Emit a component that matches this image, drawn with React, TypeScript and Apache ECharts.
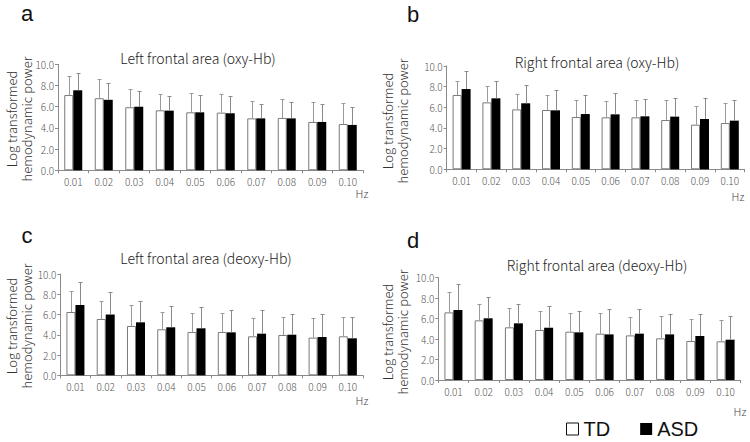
import React, { useEffect, useRef } from 'react';
import * as echarts from 'echarts';

const categories = ['0.01', '0.02', '0.03', '0.04', '0.05', '0.06', '0.07', '0.08', '0.09', '0.10'];
const yMin = 0;
const yMax = 10;
const yInterval = 2;

// a: Left frontal area (oxy-Hb)
const aTD = [7.1, 6.8, 5.95, 5.66, 5.47, 5.44, 4.9, 4.94, 4.56, 4.37];
const aTDsd = [1.8, 1.8, 1.7, 1.54, 1.79, 1.76, 1.64, 1.76, 1.89, 2.01];
const aASD = [7.55, 6.65, 6.0, 5.63, 5.47, 5.38, 4.9, 4.9, 4.56, 4.28];
const aASDsd = [1.65, 1.55, 1.45, 1.37, 1.63, 1.62, 1.36, 1.55, 1.73, 1.69];

// b: Right frontal area (oxy-Hb)
const bTD = [7.19, 6.48, 5.8, 5.74, 5.06, 5.03, 5.03, 4.77, 4.32, 4.48];
const bTDsd = [1.31, 1.55, 1.49, 1.45, 1.68, 1.55, 1.68, 1.91, 1.81, 1.94];
const bASD = [7.77, 6.87, 6.39, 5.71, 5.35, 5.32, 5.13, 5.1, 4.87, 4.71];
const bASDsd = [1.71, 1.63, 1.77, 1.94, 1.84, 2.03, 1.64, 1.77, 2.0, 1.97];

// c: Left frontal area (deoxy-Hb)
const cTD = [6.25, 5.56, 4.87, 4.54, 4.28, 4.28, 3.85, 3.98, 3.72, 3.85];
const cTDsd = [2.07, 1.78, 2.07, 1.68, 1.87, 1.87, 1.81, 1.74, 1.91, 1.91];
const cASD = [6.94, 6.0, 5.23, 4.74, 4.64, 4.24, 4.11, 4.01, 3.78, 3.65];
const cASDsd = [2.24, 2.26, 2.07, 2.07, 2.1, 2.17, 2.3, 2.04, 2.31, 2.07];

// d: Right frontal area (deoxy-Hb)
const dTD = [6.61, 5.83, 5.15, 4.89, 4.72, 4.53, 4.36, 4.07, 3.81, 3.78];
const dTDsd = [1.99, 1.56, 1.85, 1.85, 1.83, 1.98, 1.76, 2.15, 2.15, 2.05];
const dASD = [6.84, 6.03, 5.54, 5.11, 4.66, 4.46, 4.53, 4.46, 4.3, 3.94];
const dASDsd = [2.51, 2.05, 1.85, 2.09, 2.08, 2.44, 2.37, 1.96, 2.12, 2.28];

const panelLetters = ['a', 'b', 'c', 'd'];
const panelTitles = [
  'Left frontal area (oxy-Hb)',
  'Right frontal area (oxy-Hb)',
  'Left frontal area (deoxy-Hb)',
  'Right frontal area (deoxy-Hb)',
];
const yAxisName = 'Log transformed\nhemodynamic power';
const xUnit = 'Hz';
const seriesNames = ['TD', 'ASD'];

const FONT = '"Noto Sans CJK JP", "Noto Sans", sans-serif';
const FONT2 = '"Liberation Sans", Arial, sans-serif';

// layout (pixels)
const layouts = [
  { left: 58, top: 64.3, width: 305, height: 106, letter: [27, 13], title: [198, 58], yname: [19, 119], hz: [362, 193] },
  { left: 446.7, top: 66, width: 298, height: 103.3, letter: [413, 14], title: [597, 62], yname: [395, 121], hz: [738, 196] },
  { left: 60.3, top: 274, width: 302.7, height: 101.3, letter: [27, 235], title: [206, 258], yname: [19, 326], hz: [362, 400] },
  { left: 438.3, top: 277.7, width: 302.4, height: 102.3, letter: [413, 240], title: [597, 265], yname: [395, 332], hz: [740, 411] },
];

const panelData = [
  { td: aTD, tdSd: aTDsd, asd: aASD, asdSd: aASDsd },
  { td: bTD, tdSd: bTDsd, asd: bASD, asdSd: bASDsd },
  { td: cTD, tdSd: cTDsd, asd: cASD, asdSd: cASDsd },
  { td: dTD, tdSd: dTDsd, asd: dASD, asdSd: dASDsd },
];

const BAR_W = 9;

function errSeries(means: number[], sds: number[], idx: number, offset: number, color: string) {
  return {
    type: 'custom',
    xAxisIndex: idx,
    yAxisIndex: idx,
    silent: true,
    z: 5,
    data: means.map((m, i) => [i, m, m + sds[i]]),
    encode: { x: 0, y: [1, 2] },
    renderItem: (params: any, api: any) => {
      const i = api.value(0);
      const p0 = api.coord([i, api.value(1)]);
      const p1 = api.coord([i, api.value(2)]);
      const x = Math.round(p0[0] + offset) + 0.5;
      const yt = Math.round(p1[1]) + 0.5;
      return {
        type: 'group',
        children: [
          { type: 'line', shape: { x1: x, y1: p0[1], x2: x, y2: yt }, style: { stroke: color, lineWidth: 1 } },
          { type: 'line', shape: { x1: x - 2, y1: yt, x2: x + 2, y2: yt }, style: { stroke: color, lineWidth: 1 } },
        ],
      };
    },
  };
}

export default function App() {
  const ref = useRef<HTMLDivElement>(null);
  useEffect(() => {
    if (!ref.current) return;
    const chart = echarts.init(ref.current, null, { renderer: 'svg' });

    const grid = layouts.map((l) => ({ left: l.left, top: l.top, width: l.width, height: l.height, containLabel: false }));
    const xAxis = layouts.map((_, i) => ({
      type: 'category',
      gridIndex: i,
      data: categories,
      boundaryGap: true,
      axisLine: { show: true, lineStyle: { color: '#8a8a8a', width: 1 } },
      axisTick: { show: true, length: 3, lineStyle: { color: '#8a8a8a' } },
      axisLabel: { interval: 0, fontSize: 10, color: '#555', margin: 6, fontFamily: FONT, fontWeight: 300 },
    }));
    const yAxis = layouts.map((_, i) => ({
      type: 'value',
      gridIndex: i,
      min: yMin,
      max: yMax,
      interval: yInterval,
      axisLine: { show: true, lineStyle: { color: '#8a8a8a', width: 1 } },
      axisTick: { show: true, length: 3, lineStyle: { color: '#8a8a8a' } },
      splitLine: { show: false },
      axisLabel: { fontSize: 10, color: '#555', margin: 4, fontFamily: FONT, fontWeight: 300, formatter: (v: number) => v.toFixed(1) },
    }));

    const series: any[] = [];
    panelData.forEach((p, i) => {
      series.push({
        name: seriesNames[0], type: 'bar', xAxisIndex: i, yAxisIndex: i, data: p.td,
        barWidth: BAR_W, barGap: '0%',
        itemStyle: { color: '#ffffff', borderColor: '#7a7a7a', borderWidth: 1 },
      });
      series.push({
        name: seriesNames[1], type: 'bar', xAxisIndex: i, yAxisIndex: i, data: p.asd,
        barWidth: BAR_W, barGap: '0%',
        itemStyle: { color: '#000000', borderColor: '#000000', borderWidth: 0 },
      });
      series.push(errSeries(p.td, p.tdSd, i, -BAR_W / 2, '#9a9a9a'));
      series.push(errSeries(p.asd, p.asdSd, i, BAR_W / 2, '#8a8a8a'));
    });

    const graphics: any[] = [];
    layouts.forEach((l, i) => {
      graphics.push({
        type: 'text', x: l.letter[0], y: l.letter[1],
        style: { text: panelLetters[i], font: `22px ${FONT2}`, lineHeight: 22, fill: '#111', textAlign: 'center', textVerticalAlign: 'middle' },
      });
      graphics.push({
        type: 'text', x: l.title[0], y: l.title[1],
        style: { text: panelTitles[i], font: `300 14px ${FONT}`, fill: '#222', textAlign: 'center', textVerticalAlign: 'middle' },
      });
      graphics.push({
        type: 'text', x: l.yname[0], y: l.yname[1], rotation: Math.PI / 2,
        style: { text: yAxisName, font: `300 13px ${FONT}`, lineHeight: 15, fill: '#333', textAlign: 'center', textVerticalAlign: 'middle' },
      });
      graphics.push({
        type: 'text', x: l.hz[0], y: l.hz[1],
        style: { text: xUnit, font: `300 11px ${FONT}`, fill: '#444', textAlign: 'center', textVerticalAlign: 'middle' },
      });
    });

    chart.setOption({
      animation: false,
      backgroundColor: '#ffffff',
      grid,
      xAxis,
      yAxis,
      series,
      graphic: graphics,
      legend: {
        left: 566,
        top: 419,
        padding: 0,
        itemWidth: 12,
        itemHeight: 12,
        itemGap: 30,
        icon: 'rect',
        textStyle: { fontSize: 20, lineHeight: 20, color: '#111', fontFamily: FONT2 },
        data: [
          { name: seriesNames[0], itemStyle: { color: '#ffffff', borderColor: '#111', borderWidth: 1 } },
          { name: seriesNames[1], itemStyle: { color: '#000000' } },
        ],
      },
    });
    return () => chart.dispose();
  }, []);
  return <div ref={ref} style={{ position: 'absolute', left: 0, top: 0, width: 750, height: 442 }} />;
}
